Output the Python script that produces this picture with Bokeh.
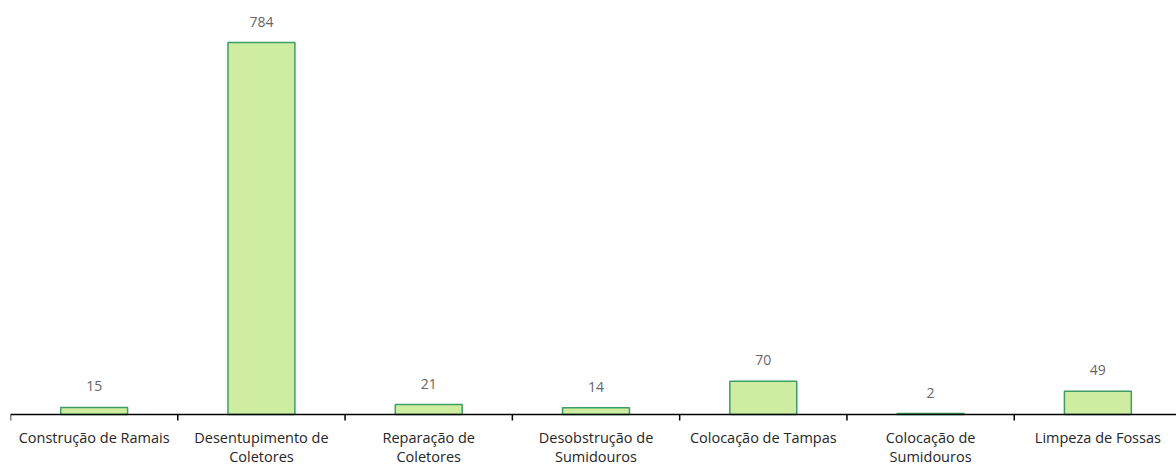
from bokeh.plotting import figure
from bokeh.models import Range1d, ColumnDataSource, Span
from bokeh.core.properties import value
from bokeh.embed import file_html
from bokeh.resources import INLINE

categories = ["Construção de Ramais", "Desentupimento de\nColetores", "Reparação de\nColetores",
              "Desobstrução de\nSumidouros", "Colocação de Tampas", "Colocação de\nSumidouros",
              "Limpeza de Fossas"]
values = [15, 784, 21, 14, 70, 2, 49]

n = len(categories)
centers = [i + 0.5 for i in range(n)]
bounds = list(range(n + 1))
src = ColumnDataSource(dict(x=centers, top=values, zero=[0] * n,
                            vlab=[str(v) for v in values], cat=categories))

PX = 784 / 372.0  # data units per pixel on the value scale

p = figure(width=1176, height=464, output_backend="svg", toolbar_location=None,
           x_range=Range1d(0, 6.97), y_range=Range1d(-50 * PX, 406 * PX),
           min_border_left=10, min_border_right=0, min_border_top=8, min_border_bottom=0)
p.outline_line_color = None
p.grid.visible = False
p.axis.visible = False
p.background_fill_color = "white"
p.border_fill_color = "white"

p.vbar(x="x", top="top", bottom=0, width=0.4, fill_color="#cfeda0",
       line_color="#3c9e66", line_width=1.5, source=src)

# axis baseline and category boundary ticks
p.add_layout(Span(location=0, dimension="width", line_color="black", line_width=1.5))
p.segment(x0=bounds, y0=[0] * len(bounds), x1=bounds, y1=[-6 * PX] * len(bounds),
          line_color="black", line_width=1.5)

p.text(x="x", y="top", text="vlab", source=src, text_align="center",
       text_baseline="bottom", y_offset=-16, text_font=value("Open Sans"),
       text_font_size="14px", text_color="#666666")

p.text(x="x", y="zero", text="cat", source=src, text_align="center",
       text_baseline="top", y_offset=13, text_font=value("Open Sans"),
       text_font_size="14.5px", text_color="#262626", text_line_height=1.0)

open("out.html", "w").write(file_html(p, INLINE))
